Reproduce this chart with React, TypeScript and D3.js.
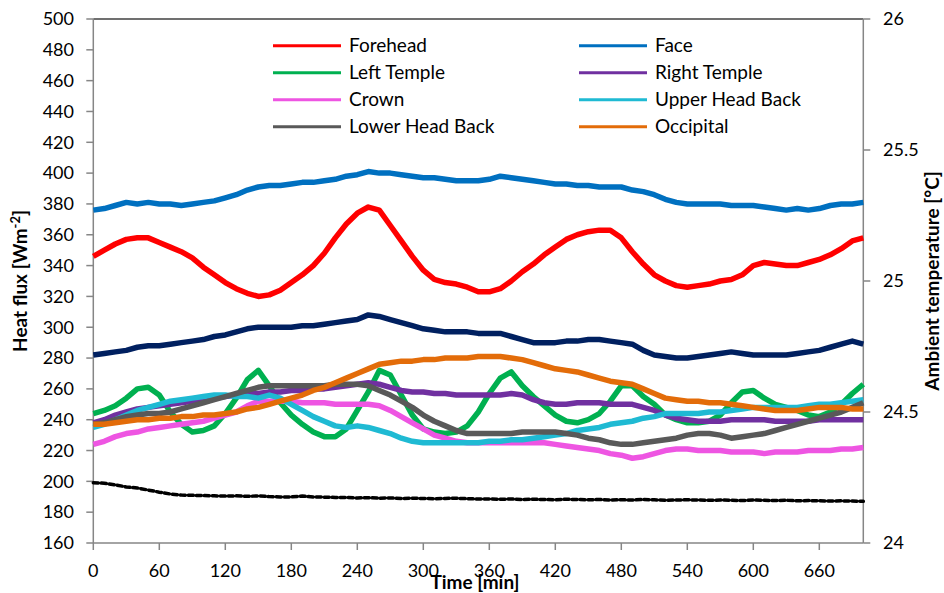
import React from "react";
import * as d3 from "d3";

// Time axis samples (minutes), one every 10 min
const minutes: number[] = d3.range(0, 701, 10);

// Heat flux per sensor location [W m^-2]
const forehead = [346,350,354,357,358,358,355,352,349,345,339,334,329,325,322,320,321,324,329,334,340,348,358,367,374,378,376,366,356,346,337,331,329,328,326,323,323,325,330,336,341,347,352,357,360,362,363,363,358,349,341,334,330,327,326,327,328,330,331,334,340,342,341,340,340,342,344,347,351,356,358];
const face = [376,377,379,381,380,381,380,380,379,380,381,382,384,386,389,391,392,392,393,394,394,395,396,398,399,401,400,400,399,398,397,397,396,395,395,395,396,398,397,396,395,394,393,393,392,392,391,391,391,389,388,386,383,381,380,380,380,380,379,379,379,378,377,376,377,376,377,379,380,380,381];
const leftTemple = [244,246,249,254,260,261,256,245,237,232,233,236,244,254,266,272,262,251,243,237,232,229,229,234,246,258,272,269,256,243,234,232,231,232,236,245,257,267,271,262,255,249,243,239,238,240,244,252,262,262,255,250,243,240,238,238,239,243,251,258,259,254,250,248,246,243,242,245,250,257,263];
const rightTemple = [238,240,243,245,247,248,249,250,251,252,253,254,255,256,257,257,258,258,259,259,260,260,261,262,263,264,263,261,259,258,258,257,257,256,256,256,256,256,257,256,253,251,250,250,251,251,251,250,250,250,248,246,243,241,240,239,239,239,240,240,240,240,239,239,239,239,240,240,240,240,240];
const crown = [224,226,229,231,232,234,235,236,237,238,239,241,243,245,249,252,252,252,252,251,251,251,250,250,250,250,249,246,242,238,234,230,228,226,225,225,225,225,225,225,225,225,224,223,222,221,220,218,217,215,216,218,220,221,221,220,220,220,219,219,219,218,219,219,219,220,220,220,221,221,222];
const upperHeadBack = [235,237,240,243,246,248,250,252,253,254,255,256,256,255,255,254,256,254,250,246,242,239,236,235,236,235,233,231,228,226,225,225,225,225,225,225,226,226,227,227,228,229,230,231,233,234,235,237,238,239,241,242,244,244,244,244,245,245,246,247,248,248,248,248,248,249,250,250,251,252,253];
const lowerHeadBack = [237,238,240,242,243,244,244,245,247,249,251,253,255,257,259,261,262,262,262,262,262,262,263,263,263,262,259,256,252,248,243,239,236,233,231,231,231,231,231,232,232,232,232,231,230,228,227,225,224,224,225,226,227,228,230,231,231,230,228,229,230,231,233,235,237,239,241,243,245,248,251];
const occipital = [237,237,238,239,240,240,241,241,242,242,243,243,244,245,247,248,250,252,254,256,259,261,264,267,270,273,276,277,278,278,279,279,280,280,280,281,281,281,280,279,277,275,273,272,271,269,267,265,264,263,260,257,254,253,252,252,251,251,250,249,248,247,246,246,246,247,248,248,248,247,247];
const reference = [282,283,284,285,287,288,288,289,290,291,292,294,295,297,299,300,300,300,300,301,301,302,303,304,305,308,307,305,303,301,299,298,297,297,297,296,296,296,294,292,290,290,290,291,291,292,292,291,290,289,285,282,281,280,280,281,282,283,284,283,282,282,282,282,283,284,285,287,289,291,289];

// Ambient temperature [°C], right axis
const ambient = [24.23,24.228,24.222,24.214,24.21,24.202,24.194,24.187,24.183,24.182,24.181,24.18,24.179,24.18,24.178,24.18,24.177,24.176,24.176,24.179,24.176,24.175,24.174,24.174,24.172,24.173,24.171,24.172,24.17,24.171,24.17,24.169,24.17,24.171,24.169,24.168,24.168,24.167,24.168,24.166,24.167,24.166,24.165,24.167,24.166,24.165,24.166,24.164,24.165,24.164,24.166,24.165,24.163,24.164,24.165,24.164,24.163,24.164,24.163,24.162,24.164,24.163,24.162,24.163,24.161,24.162,24.161,24.16,24.161,24.16,24.159];

const fluxTicks = d3.range(160, 501, 20);
const tempTicks = [24, 24.5, 25, 25.5, 26];
const timeTicks = d3.range(0, 661, 60);

const series = [
  { name: "Forehead", color: "#FF0000", values: forehead, legend: true },
  { name: "Face", color: "#0070C0", values: face, legend: true },
  { name: "Left Temple", color: "#00B050", values: leftTemple, legend: true },
  { name: "Right Temple", color: "#7030A0", values: rightTemple, legend: true },
  { name: "Crown", color: "#EE55E2", values: crown, legend: true },
  { name: "Upper Head Back", color: "#1FBAD3", values: upperHeadBack, legend: true },
  { name: "Lower Head Back", color: "#595959", values: lowerHeadBack, legend: true },
  { name: "Reference", color: "#002060", values: reference, legend: false },
  { name: "Occipital", color: "#E36C09", values: occipital, legend: true },
];

const W = 944;
const H = 593;
const m = { left: 93.3, right: 863.3, top: 19, bottom: 543 };
const FONT = "Lato, 'Open Sans', sans-serif";

export default function App() {
  const x = d3.scaleLinear().domain([0, 700]).range([m.left, m.right]);
  const yL = d3.scaleLinear().domain([160, 500]).range([m.bottom, m.top]);
  const yR = d3.scaleLinear().domain([24, 26]).range([m.bottom, m.top]);

  const lineL = d3
    .line<number>()
    .x((_, i) => x(minutes[i]))
    .y((v) => yL(v));
  const lineR = d3
    .line<number>()
    .x((_, i) => x(minutes[i]))
    .y((v) => yR(v));

  const legendItems = series.filter((s) => s.legend);
  const axisColor = "#868686";

  return (
    <div style={{ position: "absolute", left: 0, top: 0 }}>
      <svg width={W} height={H} style={{ display: "block", background: "#fff" }} fontFamily={FONT}>
        {/* frame */}
        <line x1={m.left} x2={m.right} y1={m.top} y2={m.top} stroke="#404040" strokeWidth={1.5} />
        <line x1={m.left} x2={m.left} y1={m.top} y2={m.bottom} stroke={axisColor} strokeWidth={1.5} />
        <line x1={m.right} x2={m.right} y1={m.top} y2={m.bottom} stroke={axisColor} strokeWidth={1.5} />
        <line x1={m.left} x2={m.right} y1={m.bottom} y2={m.bottom} stroke={axisColor} strokeWidth={1.5} />

        {/* left axis */}
        {fluxTicks.map((t) => (
          <g key={"l" + t}>
            <line x1={m.left - 7} x2={m.left} y1={yL(t)} y2={yL(t)} stroke={axisColor} strokeWidth={1.5} />
            <text x={74} y={yL(t)} dy="0.35em" textAnchor="end" fontSize={18} fill="#000">
              {t}
            </text>
          </g>
        ))}

        {/* right axis */}
        {tempTicks.map((t) => (
          <g key={"r" + t}>
            <line x1={m.right} x2={m.right + 7} y1={yR(t)} y2={yR(t)} stroke={axisColor} strokeWidth={1.5} />
            <text x={883} y={yR(t)} dy="0.35em" textAnchor="start" fontSize={18} fill="#000">
              {t}
            </text>
          </g>
        ))}

        {/* bottom axis */}
        {timeTicks.map((t) => (
          <g key={"b" + t}>
            <line x1={x(t)} x2={x(t)} y1={m.bottom} y2={m.bottom + 7} stroke={axisColor} strokeWidth={1.5} />
            <text x={x(t)} y={577} textAnchor="middle" fontSize={18} fill="#000">
              {t}
            </text>
          </g>
        ))}

        {/* axis titles */}
        <text
          transform={`translate(27, ${(m.top + m.bottom) / 2}) rotate(-90)`}
          textAnchor="middle"
          fontSize={19}
          fontWeight="bold"
          fill="#000"
        >
          Heat flux [Wm
          <tspan dy="-7" fontSize={13}>-2</tspan>
          <tspan dy="7">]</tspan>
        </text>
        <text
          transform={`translate(939, ${(m.top + m.bottom) / 2}) rotate(-90)`}
          textAnchor="middle"
          fontSize={19}
          fontWeight="bold"
          fill="#000"
        >
          Ambient temperature [°C]
        </text>
        <text x={475} y={589} textAnchor="middle" fontSize={19} fontWeight="bold" fill="#000">
          Time [min]
        </text>

        {/* ambient temperature */}
        <path
          d={lineR(ambient) ?? ""}
          fill="none"
          stroke="#000"
          strokeWidth={3.5}
          strokeDasharray="5 3"
          strokeLinecap="round"
        />

        {/* heat flux series */}
        {series.map((s) => (
          <path
            key={s.name}
            d={lineL(s.values) ?? ""}
            fill="none"
            stroke={s.color}
            strokeWidth={5.5}
            strokeLinejoin="round"
          />
        ))}

        {/* legend */}
        {legendItems.map((s, i) => {
          const col = i % 2;
          const row = Math.floor(i / 2);
          const lx = col === 0 ? 273 : 579;
          const ly = 45.7 + row * 27;
          return (
            <g key={"lg" + s.name}>
              <line x1={lx} x2={lx + 68} y1={ly} y2={ly} stroke={s.color} strokeWidth={3} />
              <text x={lx + 76} y={ly} dy="0.35em" fontSize={19} fill="#000">
                {s.name}
              </text>
            </g>
          );
        })}
      </svg>
    </div>
  );
}
